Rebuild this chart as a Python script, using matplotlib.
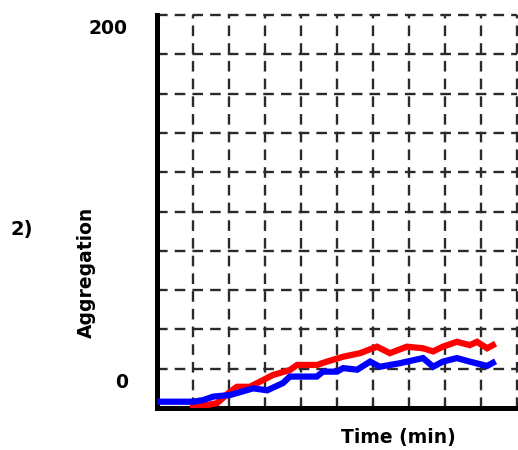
import matplotlib
matplotlib.use("Agg")
import matplotlib.pyplot as plt

# data
blue_t = [0.0, 1.0, 1.28, 1.56, 2.03, 2.67, 3.06, 3.5, 3.69, 4.44, 4.61, 5.0, 5.17, 5.56,
          5.92, 6.19, 6.75, 7.39, 7.67, 7.94, 8.33, 8.69, 9.17, 9.33]
blue_v = [3.2, 3.2, 4.0, 5.8, 6.6, 10.0, 9.0, 12.7, 16.0, 16.0, 18.5, 18.5, 20.3, 19.5,
          23.6, 21.0, 22.8, 25.4, 21.0, 23.6, 25.4, 23.6, 21.4, 23.0]
red_t = [1.0, 1.39, 1.67, 2.03, 2.22, 2.58, 2.86, 3.22, 3.69, 3.89, 4.44, 4.72, 5.17, 5.64,
         6.11, 6.47, 6.94, 7.39, 7.67, 7.94, 8.33, 8.69, 8.89, 9.17, 9.33]
red_v = [1.5, 1.5, 2.5, 8.3, 10.8, 10.8, 13.4, 16.8, 19.3, 21.9, 21.9, 23.6, 26.1, 27.9,
         31.2, 27.9, 31.2, 30.4, 28.8, 31.2, 33.7, 32.0, 33.7, 30.4, 32.0]
x_grid = list(range(0, 11))
y_grid = list(range(0, 201, 20))

W, H = 518, 450
fig = plt.figure(figsize=(W / 100, H / 100), dpi=100)
ax = fig.add_axes([157 / W, (H - 408) / H, (517 - 157) / W, (408 - 15) / H])
ax.set_xlim(0, 10)
ax.set_ylim(0, 200)

for gx in x_grid[1:]:
    ax.axvline(gx, color="#2a2a2a", lw=1.7, ls=(0, (4.5, 3)), zorder=1, clip_on=False)
for gy in y_grid[1:]:
    ax.axhline(gy, color="#2a2a2a", lw=1.7, ls=(0, (4.5, 3)), zorder=1, clip_on=False)

ax.plot(red_t, red_v, color="#ff0000", lw=4.5, zorder=3, solid_joinstyle="miter")
ax.plot(blue_t, blue_v, color="#0000ff", lw=4.5, zorder=4, solid_joinstyle="miter")

for s in ["top", "right"]:
    ax.spines[s].set_visible(False)
for s in ["left", "bottom"]:
    ax.spines[s].set_linewidth(3.6)
    ax.spines[s].set_color("black")
ax.set_xticks([])
ax.set_yticks([])

font = "DejaVu Sans"
fig.text(108 / W, 1 - 29 / H, "200", ha="center", va="center", fontsize=13.5,
         fontweight="bold", family=font)
fig.text(122 / W, 1 - 383 / H, "0", ha="center", va="center", fontsize=13.5,
         fontweight="bold", family=font)
fig.text(22 / W, 1 - 230 / H, "2)", ha="center", va="center", fontsize=14,
         fontweight="bold", family=font)
fig.text(86 / W, 1 - 272 / H, "Aggregation", ha="center", va="center", fontsize=13.5,
         fontweight="bold", rotation=90, family=font)
fig.text(398 / W, 1 - 438 / H, "Time (min)", ha="center", va="center", fontsize=13.5,
         fontweight="bold", family=font)

fig.savefig("out.png", dpi=100)
